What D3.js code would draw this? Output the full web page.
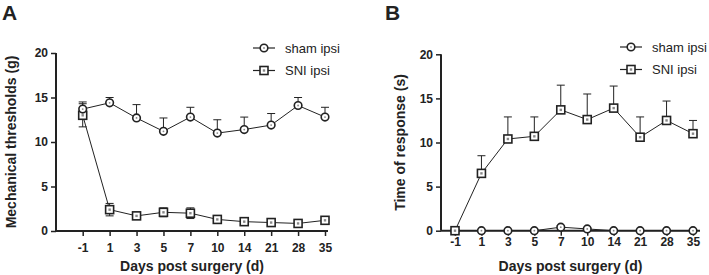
<!DOCTYPE html>
<html><head><meta charset="utf-8">
<script src="https://cdn.jsdelivr.net/npm/d3@7"></script>
<style>body{margin:0;background:#fff}svg{display:block;font-family:"Liberation Sans",Arial,sans-serif}</style>
</head><body>
<svg id="c" width="709" height="275"></svg>
<script>
const days = ["-1","1","3","5","7","10","14","21","28","35"];
const yTicks = [0,5,10,15,20];
const shamA = [13.7,14.4,12.7,11.2,12.8,11.0,11.4,11.9,14.1,12.8];
const shamAErr = [0.8,0.6,1.5,1.5,1.1,1.5,1.4,1.3,0.9,1.1];
const sniA = [13.0,2.4,1.7,2.1,2.0,1.3,1.05,0.95,0.85,1.2];
const sniAErr = [1.3,0.7,0.2,0.5,0.6,0.2,0.15,0.15,0.15,0.15];
const shamB = [0,0,0,0,0.4,0.2,0,0,0,0];
const shamBErr = [0,0,0,0,0.15,0.1,0,0,0,0];
const sniB = [0,6.5,10.4,10.7,13.7,12.6,13.9,10.6,12.5,11.0];
const sniBErr = [0,2.0,2.5,2.2,2.8,2.9,2.5,2.3,2.2,1.5];
const legendLabels = ["sham ipsi","SNI ipsi"];

const svg = d3.select("#c");
const ink = "#222";

function panel(o){
  const g = svg.append("g");
  const x = d3.scalePoint().domain(days).range([o.x0,o.x1]);
  const y = d3.scaleLinear().domain([0,20]).range([o.yb,o.yt]);
  const ya = g.append("g").attr("transform",`translate(${o.ax},0)`)
    .call(d3.axisLeft(y).tickValues(yTicks).tickSize(5).tickPadding(3));
  const xa = g.append("g").attr("transform",`translate(0,${o.yb})`)
    .call(d3.axisBottom(x).tickSize(5).tickPadding(o.xpad));
  [ya,xa].forEach(a=>{
    a.select(".domain").attr("stroke",ink).attr("stroke-width",2);
    a.selectAll(".tick line").attr("stroke",ink).attr("stroke-width",1.5);
    a.selectAll("text").attr("fill",ink).attr("font-size",12).attr("font-weight","bold");
  });
  xa.select(".domain").attr("d",`M${o.ax},0H${o.axEnd}`);
  ya.select(".domain").attr("d",`M0,${o.yb}V${o.yt}`);
  o.series.forEach((s)=>{
    const pts = s.v.map((v,i)=>({d:days[i],v,e:s.e[i]}));
    pts.forEach((p)=>{
      if(!p.e) return;
      const cx=x(p.d);
      const dirs = s.both ? [1,-1] : [1];
      dirs.forEach(dd=>{
        const ye=y(p.v+dd*p.e);
        g.append("line").attr("x1",cx).attr("x2",cx).attr("y1",y(p.v)).attr("y2",ye).attr("stroke",ink).attr("stroke-width",1);
        g.append("line").attr("x1",cx-4).attr("x2",cx+4).attr("y1",ye).attr("y2",ye).attr("stroke",ink).attr("stroke-width",1);
      });
    });
    g.append("path").datum(pts)
      .attr("d",d3.line().x(p=>x(p.d)).y(p=>y(p.v)))
      .attr("fill","none").attr("stroke",ink).attr("stroke-width",1);
    pts.forEach(p=>drawMarker(g,s.shape,x(p.d),y(p.v)));
  });
  legendLabels.forEach((t,i)=>{
    const ly=o.ly+i*22.5;
    g.append("line").attr("x1",o.lx).attr("x2",o.lx+22).attr("y1",ly).attr("y2",ly).attr("stroke",ink).attr("stroke-width",1.2);
    drawMarker(g,i===0?"circle":"square",o.lx+11,ly);
    g.append("text").attr("x",o.lx+32).attr("y",ly+4.5).attr("font-size",13).attr("fill",ink).text(t);
  });
  g.append("text").attr("x",o.ax+(o.axEnd-o.ax)/2).attr("y",271).attr("text-anchor","middle")
    .attr("font-size",14).attr("font-weight","bold").attr("fill",ink).text("Days post surgery (d)");
  g.append("text").attr("transform",`translate(${o.ytx},${(o.yb+o.yt)/2}) rotate(-90)`).attr("text-anchor","middle")
    .attr("font-size",14).attr("font-weight","bold").attr("fill",ink).text(o.ytitle);
  g.append("text").attr("x",o.lbx).attr("y",20).attr("font-size",21).attr("font-weight","bold").attr("fill",ink).text(o.letter);
}
function drawMarker(g,shape,cx,cy){
  if(shape==="circle"){
    g.append("circle").attr("cx",cx).attr("cy",cy).attr("r",3.8).attr("fill","#fff").attr("stroke",ink).attr("stroke-width",1.6);
    g.append("circle").attr("cx",cx).attr("cy",cy).attr("r",0.9).attr("fill","#888");
  } else {
    g.append("rect").attr("x",cx-4).attr("y",cy-4).attr("width",8).attr("height",8).attr("fill","#fff").attr("stroke",ink).attr("stroke-width",1.6);
    g.append("rect").attr("x",cx-1.2).attr("y",cy-1.2).attr("width",2.4).attr("height",2.4).attr("fill","#888");
  }
}

panel({x0:82.7,x1:325,ax:56,axEnd:328,yb:231,yt:53,lx:253,ly:48,ytx:16,lbx:2,letter:"A",xpad:7,
  ytitle:"Mechanical thresholds (g)",
  series:[{v:sniA,e:sniAErr,shape:"square",both:true},{v:shamA,e:shamAErr,shape:"circle",both:false}]});
panel({x0:455,x1:693,ax:441,axEnd:700,yb:230.7,yt:54.3,lx:620,ly:47,ytx:405,lbx:385,letter:"B",xpad:2,
  ytitle:"Time of response (s)",
  series:[{v:shamB,e:shamBErr,shape:"circle",both:false},{v:sniB,e:sniBErr,shape:"square",both:false}]});
</script>
</body></html>
